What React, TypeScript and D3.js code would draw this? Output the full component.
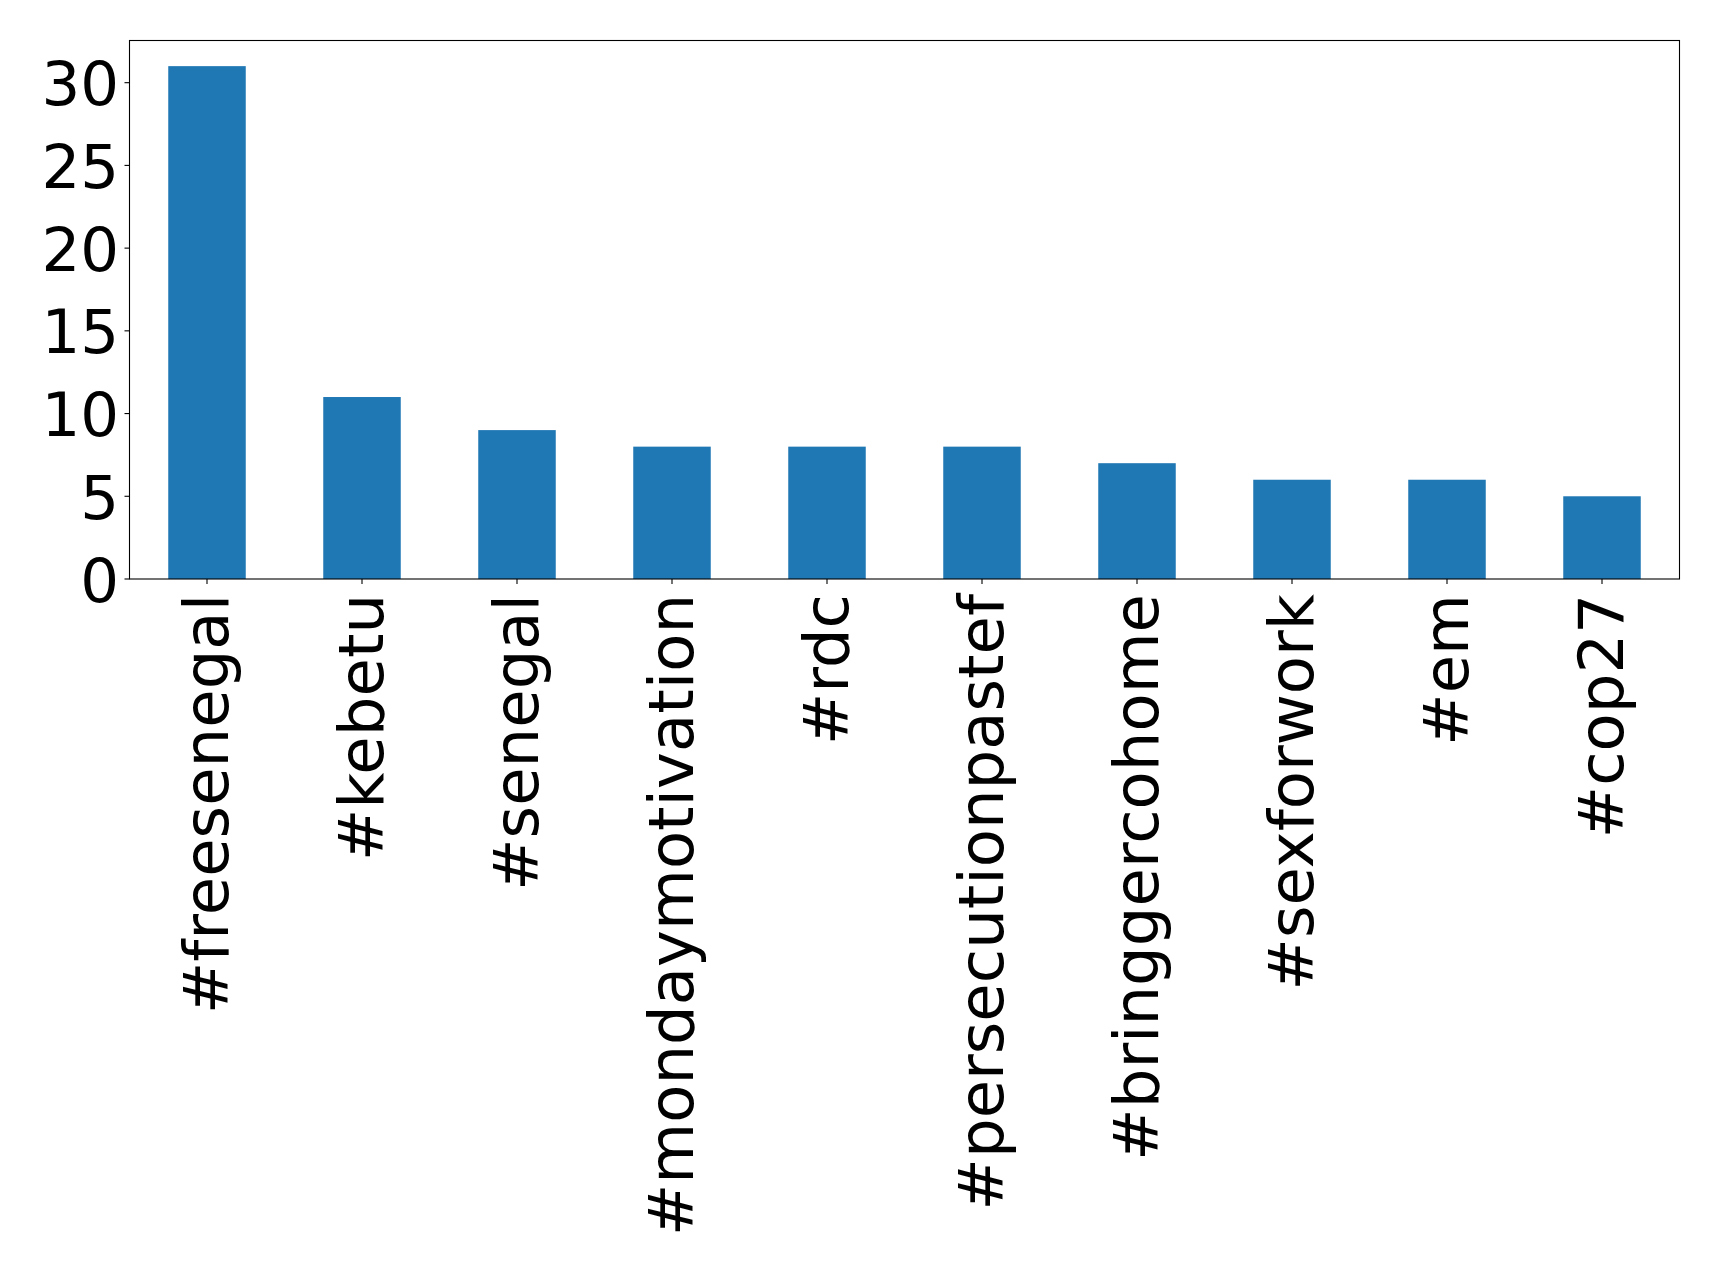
import React from "react";
import * as d3 from "d3";

const categories: string[] = [
  "#freesenegal",
  "#kebetu",
  "#senegal",
  "#mondaymotivation",
  "#rdc",
  "#persecutionpastef",
  "#bringgercohome",
  "#sexforwork",
  "#em",
  "#cop27",
];
const counts: number[] = [31, 11, 9, 8, 8, 8, 7, 6, 6, 5];
const yTicks: number[] = [0, 5, 10, 15, 20, 25, 30];

const W = 1719;
const H = 1270;
const left = 129.5;
const right = 1679.5;
const top = 40.5;
const bottom = 579;
const FONT = "'DejaVu Sans', sans-serif";

export default function App() {
  const x = d3.scaleBand<string>().domain(categories).range([left, right]).paddingInner(0.5).paddingOuter(0.25);
  const yMax = d3.max(counts)! * 1.05;
  const y = d3.scaleLinear().domain([0, yMax]).range([bottom, top]);

  return (
    <div style={{ position: "fixed", left: 0, top: 0 }}>
      <svg width={W} height={H} style={{ display: "block", background: "#fff" }}>
        {categories.map((c, i) => (
          <rect
            key={c}
            x={x(c)}
            y={y(counts[i])}
            width={x.bandwidth()}
            height={y(0) - y(counts[i])}
            fill="#1f77b4"
          />
        ))}
        <rect x={left} y={top} width={right - left} height={bottom - top} fill="none" stroke="#000" strokeWidth={1.1} />
        {yTicks.map((t) => (
          <g key={t}>
            <line x1={left - 5} x2={left} y1={y(t)} y2={y(t)} stroke="#000" strokeWidth={1.1} />
            <text x={119} y={y(t)} dy="0.37em" textAnchor="end" fontFamily={FONT} fontSize={61} fill="#000">
              {t}
            </text>
          </g>
        ))}
        {categories.map((c) => {
          const cx = x(c)! + x.bandwidth() / 2;
          return (
            <g key={c}>
              <line x1={cx} x2={cx} y1={bottom} y2={bottom + 5} stroke="#000" strokeWidth={1.1} />
              <text
                transform={`translate(${cx},${594}) rotate(-90)`}
                dy="0.34em"
                textAnchor="end"
                fontFamily={FONT}
                fontSize={62.5}
                fill="#000"
              >
                {c}
              </text>
            </g>
          );
        })}
      </svg>
    </div>
  );
}
